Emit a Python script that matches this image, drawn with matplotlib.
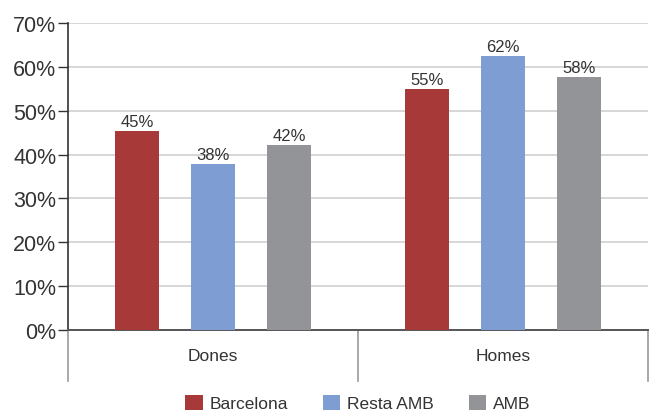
import matplotlib
matplotlib.use("Agg")
import matplotlib.pyplot as plt
from matplotlib.patches import Patch

plt.rcParams['font.family'] = ['Liberation Sans', 'DejaVu Sans']

categories = ["Dones", "Homes"]
series_names = ["Barcelona", "Resta AMB", "AMB"]
barcelona = [45.4, 55.0]
resta_amb = [37.8, 62.4]
amb = [42.2, 57.6]
yticks = [0, 10, 20, 30, 40, 50, 60, 70]
colors = ["#A83939", "#7E9ED3", "#939498"]

fig = plt.figure(figsize=(6.51, 4.14), dpi=100)
ax = fig.add_axes([68/651, 1-331/414, 580/651, 307/414])

series = [barcelona, resta_amb, amb]
offsets = [-0.262, 0.0, 0.262]
width = 0.155
for vals, off, col in zip(series, offsets, colors):
    xs = [i + off for i in range(len(categories))]
    ax.bar(xs, vals, width=width, color=col, zorder=3)
    for x, v in zip(xs, vals):
        ax.text(x, v + 0.5, f"{v:.0f}%", ha='center', va='bottom',
                fontsize=12, color='#333333', zorder=4)

ax.set_xlim(-0.5, len(categories) - 0.5)
ax.set_ylim(0, 70)
ax.set_yticks(yticks)
ax.set_yticklabels([f"{t}%" for t in yticks], fontsize=15.5, color='#333333')
ax.yaxis.grid(True, color='#D0D0D0', linewidth=1.2, zorder=0)
ax.tick_params(axis='y', length=7, width=1, color='#333333', pad=1.5)
ax.set_xticks([])
for s in ['top', 'right']:
    ax.spines[s].set_visible(False)
ax.spines['left'].set_color('#333333')
ax.spines['left'].set_linewidth(1.2)
ax.spines['bottom'].set_color('#555555')
ax.spines['bottom'].set_linewidth(1.4)

# category separators and labels
trans = ax.get_xaxis_transform()
sep_bottom = -(382 - 331) / 307
for xsep in [i - 0.5 for i in range(len(categories) + 1)]:
    ax.plot([xsep, xsep], [0, sep_bottom], transform=trans, color='#999999',
            linewidth=1.2, clip_on=False)
for i, c in enumerate(categories):
    ax.text(i, -(357 - 331) / 307, c, transform=trans, ha='center', va='center',
            fontsize=12.5, color='#333333')

handles = [Patch(facecolor=c, edgecolor='none') for c in colors]
fig.legend(handles, series_names, loc='center', bbox_to_anchor=(358/651, 1 - 404/414),
           ncol=3, frameon=False, fontsize=12.5, handlelength=1.0, handleheight=1.0,
           columnspacing=2.0, handletextpad=0.4, labelcolor='#333333')

fig.savefig("out.png", dpi=100)
